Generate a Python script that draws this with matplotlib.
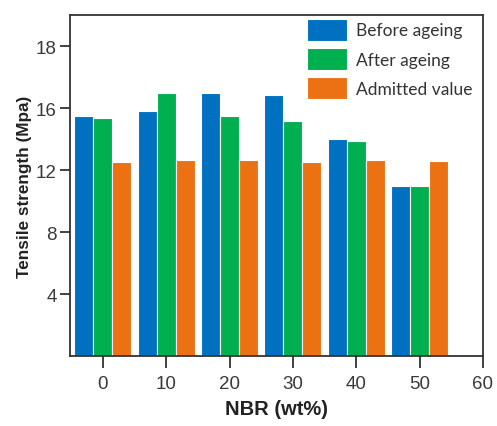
import numpy as np
import matplotlib.pyplot as plt

nbr = [0, 10, 20, 30, 40, 50]
before_ageing = [15.5, 15.8, 17.0, 16.85, 14.0, 11.0]
after_ageing = [15.35, 16.95, 15.5, 15.15, 13.85, 10.95]
admitted_value = [12.55, 12.65, 12.65, 12.55, 12.65, 12.6]

y_ticks = [4, 8, 12, 16, 20]
y_tick_labels = ['4', '8', '12', '16', '18']
x_ticks = [0, 10, 20, 30, 40, 50, 60]

colors = ['#0070C0', '#00B050', '#EB7113']

fig = plt.figure(figsize=(4.97, 4.27), dpi=100)
ax = fig.add_axes([0.1408, 0.1632, 0.831, 0.7993])

x = np.array(nbr)
w = 3.0
ax.bar(x - w, before_ageing, width=w, color=colors[0], edgecolor='white',
       linewidth=0.8, label='Before ageing')
ax.bar(x, after_ageing, width=w, color=colors[1], edgecolor='white',
       linewidth=0.8, label='After ageing')
ax.bar(x + w, admitted_value, width=w, color=colors[2], edgecolor='white',
       linewidth=0.8, label='Admitted value')

ax.set_xlim(-5.2, 60)
ax.set_ylim(0, 22)
ax.set_xticks(x_ticks)
ax.set_xticklabels([str(t) for t in x_ticks])
ax.set_yticks(y_ticks)
ax.set_yticklabels(y_tick_labels)

for s in ax.spines.values():
    s.set_linewidth(1.3)
    s.set_color('#333333')
ax.tick_params(axis='both', direction='out', colors='#333333',
               labelcolor='#3a3a3a', labelsize=13.5, width=1.3)
ax.tick_params(axis='x', length=8.5, pad=5)
ax.tick_params(axis='y', length=7.5, pad=2)
for lbl in ax.get_xticklabels() + ax.get_yticklabels():
    lbl.set_family('Liberation Sans')

ax.set_xlabel('NBR (wt%)', fontsize=14.5, fontweight='bold',
              family='Liberation Sans', color='#222222', labelpad=5)
ax.set_ylabel('Tensile strength (Mpa)', fontsize=12.3, fontweight='bold',
              family='Liberation Sans', color='#222222', labelpad=3)

leg = ax.legend(loc='upper right', bbox_to_anchor=(1.0, 1.02), frameon=False,
                prop={'family': 'Lato', 'size': 12.5}, handlelength=2.3,
                handleheight=1.6, labelspacing=0.4, handletextpad=0.5,
                borderaxespad=0.2)
for t in leg.get_texts():
    t.set_color('#333333')

fig.savefig('out.png', dpi=100)
